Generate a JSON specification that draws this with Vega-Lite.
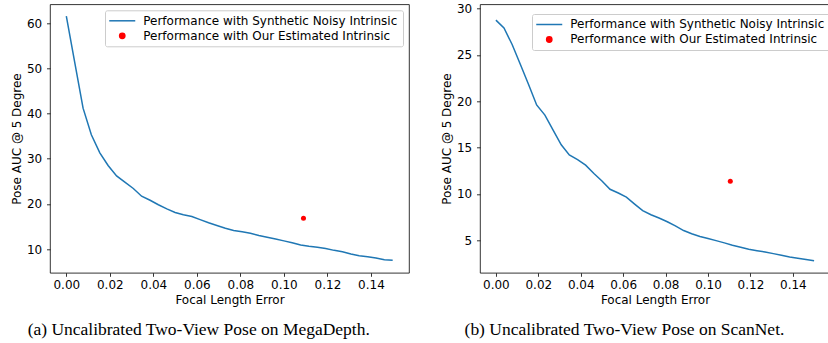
{
  "$schema": "https://vega.github.io/schema/vega-lite/v6.json",
  "padding": {"left": 10, "top": 1.3, "right": 0, "bottom": 0},
  "spacing": 30,
  "background": "white",
  "config": {
    "view": {"stroke": "#000000", "strokeWidth": 0.8},
    "axis": {
      "domain": false, "grid": false, "tickColor": "#000000", "tickSize": 3.5, "tickWidth": 0.8,
      "labelFont": "DejaVu Sans", "labelFontSize": 12, "labelColor": "#000000", "labelFlush": false,
      "titleFont": "DejaVu Sans", "titleFontSize": 12, "titleFontWeight": "normal", "titleColor": "#000000"
    },
    "axisX": {"labelPadding": 3.5, "titlePadding": 4},
    "axisY": {"labelPadding": 4.8, "titlePadding": 3},
    "legend": {
      "title": null, "padding": 4.5, "symbolSize": 100, "symbolOffset": 6.75, "labelOffset": 15,
      "rowPadding": 3, "labelFont": "DejaVu Sans", "labelFontSize": 12, "labelColor": "#000000",
      "labelLimit": 500, "fillColor": "rgba(255,255,255,0.8)", "strokeColor": "#cccccc", "cornerRadius": 2
    },
    "title": {
      "orient": "bottom", "anchor": "middle", "frame": "bounds", "dx": -11, "offset": 15,
      "font": "Liberation Serif", "fontSize": 17.5, "fontWeight": "normal", "color": "#000000"
    }
  },
  "resolve": {"scale": {"x": "independent", "y": "independent", "color": "independent"}, "legend": {"color": "independent"}},
  "hconcat": [
    {
      "width": 359,
      "height": 268.5,
      "title": {"text": "(a) Uncalibrated Two-View Pose on MegaDepth."},
      "layer": [
        {
          "data": {"values": [
            {"x": 0, "y": 61.6}, {"x": 0.0038, "y": 51.5}, {"x": 0.0077, "y": 41.2}, {"x": 0.0115, "y": 35.3},
            {"x": 0.0154, "y": 31.3}, {"x": 0.0192, "y": 28.5}, {"x": 0.0231, "y": 26.2}, {"x": 0.0269, "y": 24.8},
            {"x": 0.0308, "y": 23.4}, {"x": 0.0346, "y": 21.7}, {"x": 0.0385, "y": 20.8}, {"x": 0.0423, "y": 19.8},
            {"x": 0.0462, "y": 18.9}, {"x": 0.05, "y": 18.1}, {"x": 0.0538, "y": 17.6}, {"x": 0.0577, "y": 17.2},
            {"x": 0.0615, "y": 16.5}, {"x": 0.0654, "y": 15.8}, {"x": 0.0692, "y": 15.2}, {"x": 0.0731, "y": 14.6},
            {"x": 0.0769, "y": 14.1}, {"x": 0.0808, "y": 13.8}, {"x": 0.0846, "y": 13.5}, {"x": 0.0885, "y": 13.0},
            {"x": 0.0923, "y": 12.6}, {"x": 0.0962, "y": 12.2}, {"x": 0.1, "y": 11.8}, {"x": 0.1038, "y": 11.4},
            {"x": 0.1077, "y": 10.9}, {"x": 0.1115, "y": 10.6}, {"x": 0.1154, "y": 10.4}, {"x": 0.1192, "y": 10.1},
            {"x": 0.1231, "y": 9.7}, {"x": 0.1269, "y": 9.4}, {"x": 0.1308, "y": 8.9}, {"x": 0.1346, "y": 8.5},
            {"x": 0.1385, "y": 8.3}, {"x": 0.1423, "y": 8.0}, {"x": 0.1462, "y": 7.6}, {"x": 0.15, "y": 7.5}
          ]},
          "transform": [{"calculate": "'Performance with Synthetic Noisy Intrinsic'", "as": "series"}],
          "mark": {"type": "line", "strokeWidth": 1.5},
          "encoding": {
            "x": {"field": "x", "type": "quantitative", "scale": {"domain": [-0.0075, 0.1575], "nice": false, "zero": false},
                  "axis": {"title": "Focal Length Error", "values": [0, 0.02, 0.04, 0.06, 0.08, 0.1, 0.12, 0.14], "format": ".2f"}},
            "y": {"field": "y", "type": "quantitative", "scale": {"domain": [4.73, 64.21], "nice": false, "zero": false},
                  "axis": {"title": "Pose AUC @ 5 Degree", "values": [10, 20, 30, 40, 50, 60]}},
            "color": {"field": "series", "type": "nominal",
                      "scale": {"domain": ["Performance with Synthetic Noisy Intrinsic", "Performance with Our Estimated Intrinsic"], "range": ["#1f77b4", "#ff0000"]},
                      "legend": {"orient": "top-right", "offset": 6,
                        "encode": {"symbols": {"update": {
                          "shape": {"signal": "datum.value === 'Performance with Synthetic Noisy Intrinsic' ? 'M-1,0H1' : 'circle'"},
                          "size": {"signal": "datum.value === 'Performance with Synthetic Noisy Intrinsic' ? 676 : 28"},
                          "fill": {"signal": "datum.value === 'Performance with Synthetic Noisy Intrinsic' ? 'transparent' : '#ff0000'"},
                          "stroke": {"signal": "datum.value === 'Performance with Synthetic Noisy Intrinsic' ? '#1f77b4' : 'transparent'"},
                          "strokeWidth": {"value": 1.5},
                          "opacity": {"value": 1}
                        }}}}}
          }
        },
        {
          "data": {"values": [{"x": 0.109, "y": 16.8, "series": "Performance with Our Estimated Intrinsic"}]},
          "mark": {"type": "circle", "size": 25, "opacity": 1},
          "encoding": {
            "x": {"field": "x", "type": "quantitative"},
            "y": {"field": "y", "type": "quantitative"},
            "color": {"field": "series", "type": "nominal"}
          }
        }
      ]
    },
    {
      "width": 350,
      "height": 268.5,
      "title": {"text": "(b) Uncalibrated Two-View Pose on ScanNet."},
      "layer": [
        {
          "data": {"values": [
            {"x": 0, "y": 28.75}, {"x": 0.0038, "y": 27.9}, {"x": 0.0077, "y": 26.1}, {"x": 0.0115, "y": 24.0},
            {"x": 0.0154, "y": 21.8}, {"x": 0.0192, "y": 19.6}, {"x": 0.0231, "y": 18.5}, {"x": 0.0269, "y": 16.9},
            {"x": 0.0308, "y": 15.3}, {"x": 0.0346, "y": 14.2}, {"x": 0.0385, "y": 13.7}, {"x": 0.0423, "y": 13.1},
            {"x": 0.0462, "y": 12.2}, {"x": 0.05, "y": 11.4}, {"x": 0.0538, "y": 10.5}, {"x": 0.0577, "y": 10.1},
            {"x": 0.0615, "y": 9.65}, {"x": 0.0654, "y": 8.9}, {"x": 0.0692, "y": 8.2}, {"x": 0.0731, "y": 7.75},
            {"x": 0.0769, "y": 7.4}, {"x": 0.0808, "y": 7.0}, {"x": 0.0846, "y": 6.55}, {"x": 0.0885, "y": 6.05},
            {"x": 0.0923, "y": 5.7}, {"x": 0.0962, "y": 5.4}, {"x": 0.1, "y": 5.18}, {"x": 0.1038, "y": 4.96},
            {"x": 0.1077, "y": 4.72}, {"x": 0.1115, "y": 4.47}, {"x": 0.1154, "y": 4.24}, {"x": 0.1192, "y": 4.03},
            {"x": 0.1231, "y": 3.88}, {"x": 0.1269, "y": 3.74}, {"x": 0.1308, "y": 3.56}, {"x": 0.1346, "y": 3.38},
            {"x": 0.1385, "y": 3.2}, {"x": 0.1423, "y": 3.06}, {"x": 0.1462, "y": 2.92}, {"x": 0.15, "y": 2.8}
          ]},
          "transform": [{"calculate": "'Performance with Synthetic Noisy Intrinsic'", "as": "series"}],
          "mark": {"type": "line", "strokeWidth": 1.5},
          "encoding": {
            "x": {"field": "x", "type": "quantitative", "scale": {"domain": [-0.0075, 0.1575], "nice": false, "zero": false},
                  "axis": {"title": "Focal Length Error", "values": [0, 0.02, 0.04, 0.06, 0.08, 0.1, 0.12, 0.14], "format": ".2f"}},
            "y": {"field": "y", "type": "quantitative", "scale": {"domain": [1.49, 30.46], "nice": false, "zero": false},
                  "axis": {"title": "Pose AUC @ 5 Degree", "values": [5, 10, 15, 20, 25, 30]}},
            "color": {"field": "series", "type": "nominal",
                      "scale": {"domain": ["Performance with Synthetic Noisy Intrinsic", "Performance with Our Estimated Intrinsic"], "range": ["#1f77b4", "#ff0000"]},
                      "legend": {"orient": "none", "legendX": 52, "legendY": 9.7,
                        "encode": {"symbols": {"update": {
                          "shape": {"signal": "datum.value === 'Performance with Synthetic Noisy Intrinsic' ? 'M-1,0H1' : 'circle'"},
                          "size": {"signal": "datum.value === 'Performance with Synthetic Noisy Intrinsic' ? 676 : 28"},
                          "fill": {"signal": "datum.value === 'Performance with Synthetic Noisy Intrinsic' ? 'transparent' : '#ff0000'"},
                          "stroke": {"signal": "datum.value === 'Performance with Synthetic Noisy Intrinsic' ? '#1f77b4' : 'transparent'"},
                          "strokeWidth": {"value": 1.5},
                          "opacity": {"value": 1}
                        }}}}}
          }
        },
        {
          "data": {"values": [{"x": 0.1105, "y": 11.37, "series": "Performance with Our Estimated Intrinsic"}]},
          "mark": {"type": "circle", "size": 25, "opacity": 1},
          "encoding": {
            "x": {"field": "x", "type": "quantitative"},
            "y": {"field": "y", "type": "quantitative"},
            "color": {"field": "series", "type": "nominal"}
          }
        }
      ]
    }
  ]
}
